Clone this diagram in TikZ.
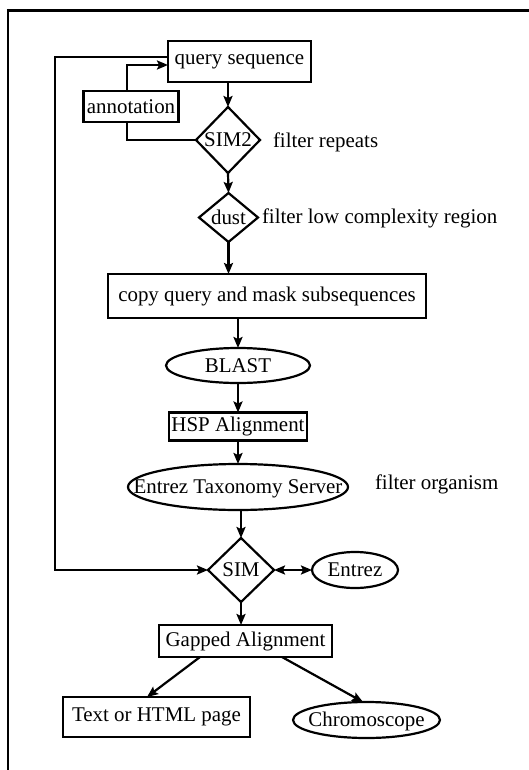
\documentclass[tikz,border=0pt]{standalone}
\usepackage{fontspec}
\setmainfont{Liberation Serif}
\usetikzlibrary{shapes.geometric,arrows.meta}
\newcommand{\ctrlbl}[1]{\makebox[0pt]{\raisebox{-0.33em}[0pt][0pt]{#1}}}
\begin{document}
\begin{tikzpicture}[x=1bp,y=-1bp,
  every node/.style={font=\fontsize{21}{25}\selectfont, inner sep=0pt, outer sep=0pt},
  boxnode/.style={draw, line width=2.2bp, rectangle},
  ellnode/.style={draw, line width=2.2bp, ellipse},
  dianode/.style={draw, line width=2.2bp, diamond},
  conn/.style={line width=2.2bp, line join=miter, -{Stealth[length=11bp,width=9bp,inset=2bp]}},
  plainline/.style={line width=2.2bp, line join=miter},
  note/.style={anchor=west}]
\useasboundingbox (0,0) rectangle (529,770);
% frame
\draw[line width=3bp] (6.75,10.5) -- (529,10.5);
\draw[line width=2.5bp] (8,9) -- (8,770);

% nodes
\node[boxnode, minimum width=143bp, minimum height=41bp] (query) at (239.5,61.5) {query sequence};
\node[boxnode, minimum width=95bp, minimum height=31bp] (annot) at (131,106.5) {annotation};
\node[dianode, minimum width=64bp, minimum height=66bp] (sim2) at (228,140) {\ctrlbl{SIM2}};
\node[note] (frep) at (273,142) {filter repeats};
\node[dianode, minimum width=59bp, minimum height=49bp] (dust) at (228.5,217.5) {\ctrlbl{dust}};
\node[note] (flow) at (262,218) {filter low complexity region};
\node[boxnode, minimum width=318bp, minimum height=44bp] (copy) at (267,296) {copy query and mask subsequences};
\node[ellnode, minimum width=144bp, minimum height=35bp] (blast) at (238,365.5) {\ctrlbl{BLAST}};
\node[boxnode, minimum width=138bp, minimum height=28bp] (hsp) at (238,426.5) {HSP Alignment};
\node[ellnode, minimum width=220bp, minimum height=46bp] (etax) at (238,487) {\ctrlbl{Entrez Taxonomy Server}};
\node[note] (forg) at (375,484) {filter organism};
\node[dianode, minimum width=66bp, minimum height=64bp] (sim) at (241,570) {\ctrlbl{SIM}};
\node[ellnode, minimum width=86bp, minimum height=36bp] (entrez) at (355,570) {\ctrlbl{Entrez}};
\node[boxnode, minimum width=173bp, minimum height=32bp] (gapped) at (245.5,641) {Gapped Alignment};
\node[boxnode, minimum width=187bp, minimum height=40bp] (textp) at (156.5,717) {Text or HTML page};
\node[ellnode, minimum width=147bp, minimum height=36bp] (chromo) at (366.5,720) {\ctrlbl{Chromoscope}};

\coordinate (loopc) at (55,570);

% connectors
\draw[conn] (sim2.north |- query.south) -- (sim2.north);
\draw[plainline] (sim2.west) -| ([xshift=-4bp]annot.south);
\draw[conn] ([xshift=-4bp]annot.north) |- ([yshift=-3.5bp]query.west);
\draw[conn] (sim2.south) -- (dust.north);
\draw[conn] (dust.south) -- (dust.south |- copy.north);
\draw[conn] (copy.south -| blast) -- (blast.north);
\draw[conn] (blast.south) -- (hsp.north);
\draw[conn] (hsp.south) -- (etax.north);
\draw[conn] (sim.north |- etax.south) -- (sim.north);
\draw[conn] ([yshift=4.5bp]query.west) -| (loopc) -- (sim.west);
\draw[line width=2.2bp, {Stealth[length=11bp,width=9bp,inset=2bp]}-{Stealth[length=11bp,width=9bp,inset=2bp]}] (sim.east) -- (entrez.west);
\draw[conn] (sim.south) -- (sim.south |- gapped.north);
\draw[conn] ([xshift=-45.5bp]gapped.south) -- ([xshift=-9.5bp]textp.north);
\draw[conn] ([xshift=36.5bp]gapped.south) -- ([xshift=-3.5bp]chromo.north);
\end{tikzpicture}
\end{document}
